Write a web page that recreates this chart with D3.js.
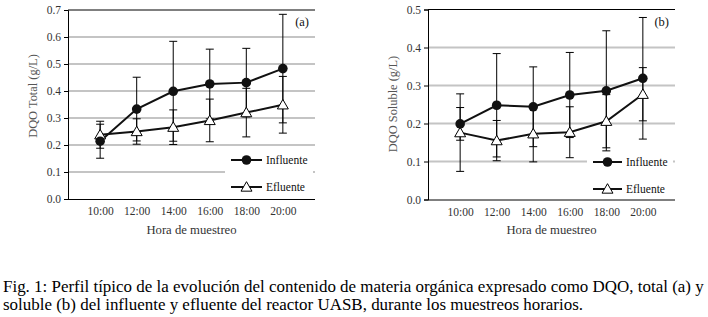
<!DOCTYPE html>
<html>
<head>
<meta charset="utf-8">
<script src="https://cdn.jsdelivr.net/npm/d3@7"></script>
<style>
  body { margin: 0; background: #fff; }
  svg { display: block; }
</style>
</head>
<body>
<svg id="chart" width="708" height="317"></svg>
<script>
// horas de muestreo
var horas = ["10:00", "12:00", "14:00", "16:00", "18:00", "20:00"];

// (a) DQO total
var totalInf = [0.214, 0.333, 0.399, 0.426, 0.431, 0.483];
var totalInfErr = [0.063, 0.118, 0.185, 0.129, 0.127, 0.201];
var totalEfl = [0.238, 0.250, 0.266, 0.291, 0.320, 0.349];
var totalEflErr = [0.050, 0.047, 0.064, 0.079, 0.090, 0.105];
var totalTicks = [0, 0.1, 0.2, 0.3, 0.4, 0.5, 0.6, 0.7];

// (b) DQO soluble
var solInf = [0.199, 0.248, 0.244, 0.275, 0.286, 0.319];
var solInfErr = [0.043, 0.136, 0.105, 0.112, 0.158, 0.160];
var solEfl = [0.176, 0.155, 0.173, 0.177, 0.206, 0.277];
var solEflErr = [0.102, 0.053, 0.074, 0.067, 0.070, 0.070];
var solTicks = [0, 0.1, 0.2, 0.3, 0.4, 0.5];

var svg = d3.select("#chart");
var serif = "Liberation Serif";

function drawPanel(p) {
    var g = svg.append("g");
    var x = d3.scalePoint().domain(horas).range([p.left, p.right]).padding(0.88);
    var y = d3.scaleLinear().domain([0, p.max]).range([p.bottom, p.top]);

    // lineas de cuadricula
    g.selectAll(".grid")
        .data(p.ticks.filter(function (d) { return d > 0 && d < p.max; }))
        .enter()
        .append("line")
        .attr("x1", p.left).attr("x2", p.right)
        .attr("y1", function (d) { return y(d); })
        .attr("y2", function (d) { return y(d); })
        .attr("stroke", "#c4c4c4")
        .attr("stroke-width", 2);

    // linea superior
    g.append("line")
        .attr("x1", p.left).attr("x2", p.right)
        .attr("y1", y(p.max)).attr("y2", y(p.max))
        .attr("stroke", "#000").attr("stroke-width", 1);

    // eje Y
    var yAxis = g.append("g")
        .attr("transform", "translate(" + p.left + ",0)")
        .call(d3.axisLeft(y).tickValues(p.ticks).tickFormat(d3.format(".1f")).tickSize(4).tickPadding(3));
    yAxis.select(".domain").attr("stroke", "#000");
    yAxis.selectAll("text").style("font-family", serif).attr("font-size", 11.5).attr("fill", "#333");

    // eje X
    var xAxis = g.append("g")
        .attr("transform", "translate(0," + p.bottom + ")")
        .call(d3.axisBottom(x).tickSize(0).tickPadding(8).tickSizeOuter(0));
    xAxis.select(".domain").attr("stroke", "#000").attr("d", "M" + p.left + ",0.5H" + p.right);
    xAxis.selectAll("text").style("font-family", serif).attr("font-size", 11.5).attr("fill", "#333");

    // titulos de ejes
    g.append("text")
        .attr("transform", "translate(" + p.ylabX + "," + p.ylabY + ") rotate(-90)")
        .attr("text-anchor", "middle")
        .style("font-family", serif).attr("font-size", 12.4).attr("fill", "#555")
        .text(p.ylabel);
    g.append("text")
        .attr("x", (p.left + p.right) / 2).attr("y", 234)
        .attr("text-anchor", "middle")
        .style("font-family", serif).attr("font-size", 12.7).attr("fill", "#333")
        .text("Hora de muestreo");

    // leyenda (fondo blanco tapa la cuadricula)
    g.append("rect")
        .attr("x", p.legX - 6).attr("y", p.legY - 12)
        .attr("width", p.right - p.legX + 4).attr("height", 46)
        .attr("fill", "#fff");

    var series = [
        {vals: p.efl, err: p.eflErr},
        {vals: p.inf, err: p.infErr}
    ];

    series.forEach(function (s) {
        // barras de error
        var eb = g.selectAll(null).data(s.vals).enter().append("g")
            .attr("stroke", "#000").attr("stroke-width", 1);
        eb.append("line")
            .attr("x1", function (d, i) { return x(horas[i]); })
            .attr("x2", function (d, i) { return x(horas[i]); })
            .attr("y1", function (d, i) { return y(d + s.err[i]); })
            .attr("y2", function (d, i) { return y(d - s.err[i]); });
        [1, -1].forEach(function (sg) {
            eb.append("line")
                .attr("x1", function (d, i) { return x(horas[i]) - 4; })
                .attr("x2", function (d, i) { return x(horas[i]) + 4; })
                .attr("y1", function (d, i) { return y(d + sg * s.err[i]); })
                .attr("y2", function (d, i) { return y(d + sg * s.err[i]); });
        });
    });

    series.forEach(function (s) {
        var line = d3.line()
            .x(function (d, i) { return x(horas[i]); })
            .y(function (d) { return y(d); });
        g.append("path").datum(s.vals)
            .attr("d", line)
            .attr("fill", "none").attr("stroke", "#111").attr("stroke-width", 2);
    });

    var tri = d3.symbol().type(d3.symbolTriangle).size(52);
    g.selectAll(null).data(p.efl).enter().append("path")
        .attr("d", tri)
        .attr("transform", function (d, i) { return "translate(" + x(horas[i]) + "," + (y(d) + 1) + ")"; })
        .attr("fill", "#fff").attr("stroke", "#000").attr("stroke-width", 1);
    g.selectAll(null).data(p.inf).enter().append("circle")
        .attr("cx", function (d, i) { return x(horas[i]); })
        .attr("cy", function (d) { return y(d); })
        .attr("r", 4.8)
        .attr("fill", "#111");

    // elementos de la leyenda
    var leg = [{name: "Influente", type: "circ"}, {name: "Efluente", type: "tri"}];
    leg.forEach(function (l, k) {
        var ly = p.legY + k * 27;
        g.append("line")
            .attr("x1", p.legX).attr("x2", p.legX + p.legW)
            .attr("y1", ly).attr("y2", ly)
            .attr("stroke", "#111").attr("stroke-width", 2);
        if (l.type == "circ") {
            g.append("circle").attr("cx", p.legX + p.legW / 2).attr("cy", ly).attr("r", 4.8).attr("fill", "#111");
        } else {
            g.append("path").attr("d", tri)
                .attr("transform", "translate(" + (p.legX + p.legW / 2) + "," + (ly + 1) + ")")
                .attr("fill", "#fff").attr("stroke", "#000");
        }
        g.append("text")
            .attr("x", p.legX + p.legW + 4).attr("y", ly + 4)
            .style("font-family", serif).attr("font-size", 11.5).attr("fill", "#111")
            .text(l.name);
    });

    // etiqueta del panel
    g.append("text")
        .attr("x", p.right - 6).attr("y", 26)
        .attr("text-anchor", "end")
        .style("font-family", serif).attr("font-size", 12.5).attr("fill", "#111")
        .text(p.tag);
}

drawPanel({
    left: 68, right: 315, top: 10, bottom: 199, max: 0.7, ticks: totalTicks,
    inf: totalInf, infErr: totalInfErr, efl: totalEfl, eflErr: totalEflErr,
    ylabel: "DQO Total (g/L)", ylabX: 37, ylabY: 96,
    legX: 231, legY: 160, legW: 31, tag: "(a)"
});
drawPanel({
    left: 428, right: 675, top: 9.5, bottom: 199.5, max: 0.5, ticks: solTicks,
    inf: solInf, infErr: solInfErr, efl: solEfl, eflErr: solEflErr,
    ylabel: "DQO Soluble (g/L)", ylabX: 397, ylabY: 104,
    legX: 593, legY: 162, legW: 29, tag: "(b)"
});

// pie de figura
var capTxt1 = "Fig. 1: Perfil típico de la evolución del contenido de materia orgánica expresado como DQO, total (a) y";
var capTxt2 = "soluble (b) del influente y efluente del reactor UASB, durante los muestreos horarios.";
var cap1 = svg.append("text")
    .attr("x", 3).attr("y", 292)
    .style("font-family", serif).attr("font-size", 14).attr("fill", "#000")
    .text(capTxt1);
var fs = 14 * 701 / cap1.node().getComputedTextLength();
cap1.attr("font-size", fs);
svg.append("text")
    .attr("x", 3).attr("y", 310)
    .style("font-family", serif).attr("font-size", fs).attr("fill", "#000")
    .text(capTxt2);
</script>
</body>
</html>
